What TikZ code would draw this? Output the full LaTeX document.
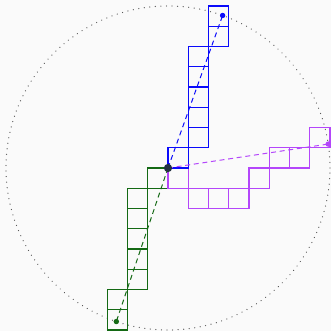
\documentclass[tikz,border=0pt]{standalone}
\definecolor{bgc}{RGB}{250,250,250}
\definecolor{cblue}{RGB}{10,10,250}
\definecolor{cgreen}{RGB}{20,105,20}
\definecolor{cmag}{RGB}{180,70,250}
\definecolor{cdot}{RGB}{35,50,65}
\tikzset{
  cell/.style={draw=#1, line width=0.75pt},
  ray/.style={draw=#1, line width=0.7pt, dash pattern=on 3.5pt off 2.6pt},
  endpt/.style={circle, fill=#1, inner sep=0pt, minimum size=3.8pt},
  ring/.style={draw=black!65, line width=0.9pt, line cap=round, dash pattern=on 0.01pt off 3.9pt}
}
\begin{document}
\begin{tikzpicture}[x=0.5cm,y=0.5cm]
\fill[bgc] (-8.296,-8.049) rectangle (8.049,8.296);
\useasboundingbox (-8.296,-8.049) rectangle (8.049,8.296);
\coordinate (O) at (0,0);
\draw[ring] (O) circle (8);
% green cells
\foreach \i/\j in {-1/-1,-2/-2,-2/-3,-2/-4,-2/-5,-2/-6,-3/-7,-3/-8}
  \draw[cell=cgreen] (\i,\j) rectangle ++(1,1);
% magenta cells
\foreach \i/\j in {0/-1,1/-2,2/-2,3/-2,4/-1,5/0,6/0,7/1}
  \draw[cell=cmag] (\i,\j) rectangle ++(1,1);
% blue cells
\foreach \i/\j in {0/0,1/1,1/2,1/3,1/4,1/5,2/6,2/7}
  \draw[cell=cblue] (\i,\j) rectangle ++(1,1);
% end points
\node[endpt=cgreen] (G) at (251.4:8) {};
\node[endpt=cmag] (M) at (8.5:8) {};
\node[endpt=cblue] (B) at (70.3:8) {};
\draw[ray=cgreen] (O) -- (G.center);
\draw[ray=cmag] (O) -- (M.center);
\draw[ray=cblue] (O) -- (B.center);
\node[circle, fill=cdot, inner sep=0pt, minimum size=5.8pt] (C) at (O) {};
\end{tikzpicture}
\end{document}
